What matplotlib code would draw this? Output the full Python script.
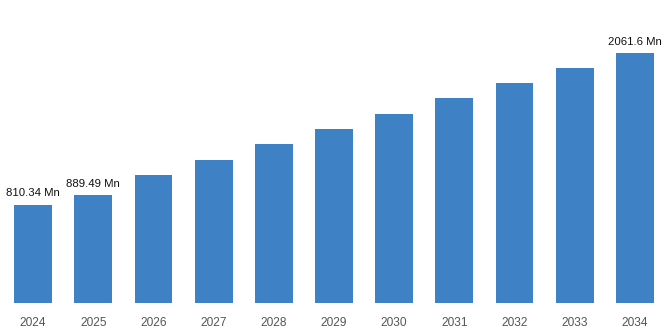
import matplotlib.pyplot as plt

years = ['2024', '2025', '2026', '2027', '2028', '2029', '2030', '2031', '2032', '2033', '2034']
values = [810.34, 889.49, 1055, 1183, 1311, 1435, 1558, 1686, 1814, 1938, 2061.6]
labels = {0: '810.34 Mn', 1: '889.49 Mn', 10: '2061.6 Mn'}

plt.rcParams['font.family'] = ['Liberation Sans', 'DejaVu Sans']

fig = plt.figure(figsize=(6.68, 3.34), dpi=100)
ax = fig.add_axes([0, 31 / 334, 1, 303 / 334])

x = range(len(years))
bars = ax.bar(x, values, width=0.63, color='#3f81c5')

for i, txt in labels.items():
    ax.annotate(txt, (i, values[i]), xytext=(0, 4.5), textcoords='offset points',
                ha='center', va='bottom', fontsize=8.2, color='#111111')

ax.set_xlim(-0.55, len(years) - 0.45)
ax.set_ylim(0, 2498)
ax.set_xticks(list(x))
ax.set_xticklabels(years, fontsize=8.6, color='#555555')
ax.tick_params(axis='x', length=0, pad=10)
ax.set_yticks([])
for s in ax.spines.values():
    s.set_visible(False)

fig.savefig('out.png', dpi=100)
